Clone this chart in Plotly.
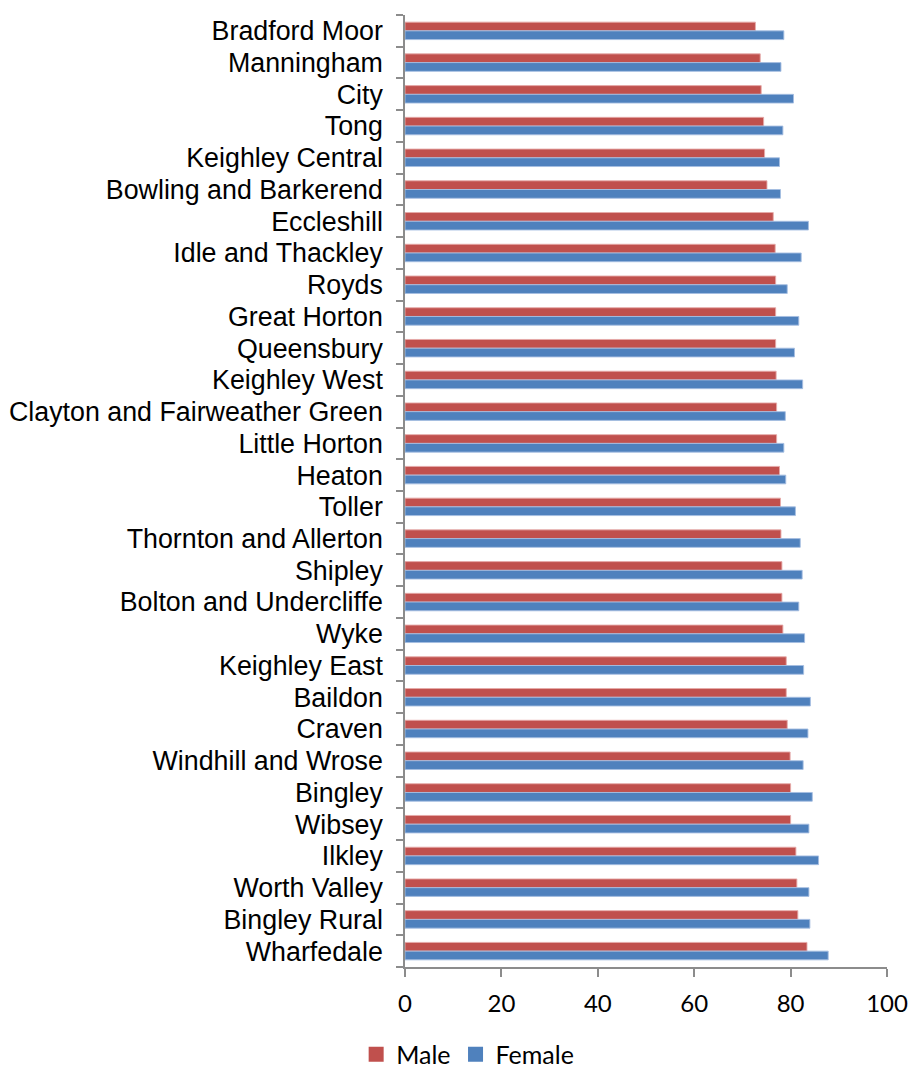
import plotly.graph_objects as go

# Life expectancy at birth by ward (years)
wards = [
    "Bradford Moor", "Manningham", "City", "Tong", "Keighley Central",
    "Bowling and Barkerend", "Eccleshill", "Idle and Thackley", "Royds",
    "Great Horton", "Queensbury", "Keighley West", "Clayton and Fairweather Green",
    "Little Horton", "Heaton", "Toller", "Thornton and Allerton", "Shipley",
    "Bolton and Undercliffe", "Wyke", "Keighley East", "Baildon", "Craven",
    "Windhill and Wrose", "Bingley", "Wibsey", "Ilkley", "Worth Valley",
    "Bingley Rural", "Wharfedale",
]
male = [
    72.7, 73.7, 73.9, 74.4, 74.6, 75.1, 76.4, 76.8, 76.9, 76.9,
    76.9, 77.0, 77.1, 77.1, 77.7, 77.9, 78.0, 78.2, 78.2, 78.4,
    79.1, 79.1, 79.3, 79.9, 80.0, 80.0, 81.1, 81.3, 81.5, 83.4,
]
female = [
    78.6, 78.0, 80.6, 78.4, 77.7, 77.9, 83.7, 82.2, 79.3, 81.7,
    80.8, 82.5, 78.9, 78.6, 79.0, 81.0, 82.0, 82.4, 81.7, 82.9,
    82.7, 84.1, 83.6, 82.6, 84.5, 83.8, 85.8, 83.8, 84.0, 87.8,
]
x_ticks = [0, 20, 40, 60, 80, 100]

male_colour = "#C0504D"
female_colour = "#4F81BD"

fig = go.Figure()
fig.add_trace(go.Bar(
    y=wards, x=male, name="Male", orientation="h", showlegend=False,
    marker=dict(color=male_colour, line=dict(color="rgba(230,170,168,0.9)", width=1)),
))
fig.add_trace(go.Bar(
    y=wards, x=female, name="Female", orientation="h", showlegend=False,
    marker=dict(color=female_colour, line=dict(color="rgba(165,190,225,0.9)", width=1)),
))
# Legend keys drawn as larger squares
for name, colour in (("Male", male_colour), ("Female", female_colour)):
    fig.add_trace(go.Scatter(
        x=[None], y=[None], mode="markers", name=name,
        marker=dict(symbol="square", size=15, color=colour),
    ))

axis_grey = "#8C8C8C"
fig.update_layout(
    width=909, height=1068,
    margin=dict(l=405, r=22, t=15, b=101, autoexpand=False),
    paper_bgcolor="white", plot_bgcolor="white",
    barmode="group", bargap=0.45, bargroupgap=0,
    showlegend=True,
    legend=dict(
        orientation="h", x=0.13, xanchor="center", y=-0.092, yanchor="middle",
        font=dict(family="Lato, sans-serif", size=25, color="#000000"),
        traceorder="normal", itemwidth=30, tracegroupgap=0,
    ),
    xaxis=dict(
        range=[0, 100], tickvals=x_ticks, ticktext=[str(v) for v in x_ticks],
        showgrid=False, zeroline=False,
        showline=True, linecolor=axis_grey, linewidth=1.5,
        ticks="outside", ticklen=8, tickwidth=1.5, tickcolor=axis_grey,
        ticklabelstandoff=6,
        tickfont=dict(family="Lato, sans-serif", size=24, color="#000000"),
    ),
    yaxis=dict(
        autorange="reversed", categoryorder="array", categoryarray=wards,
        tickmode="array", tickvals=wards, ticktext=wards,
        showgrid=False, zeroline=False,
        showline=True, linecolor=axis_grey, linewidth=1.5,
        ticks="outside", ticklen=7, tickwidth=1.5, tickcolor=axis_grey,
        tickson="boundaries", ticklabelstandoff=15,
        tickfont=dict(family="Liberation Sans, Arial, sans-serif", size=26.8, color="#000000"),
    ),
)

fig.write_html("out.html")
